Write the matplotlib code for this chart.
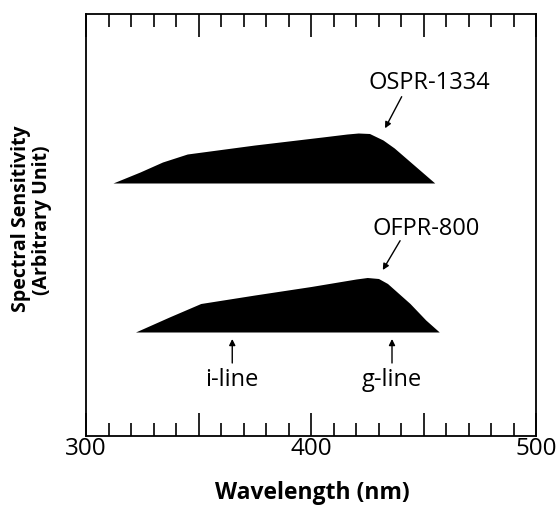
import matplotlib
matplotlib.use("Agg")
import matplotlib.pyplot as plt
from matplotlib.ticker import MultipleLocator, FixedLocator

plt.rcParams['font.family'] = ['Open Sans', 'DejaVu Sans']

# Data (wavelength in nm, sensitivity in arbitrary units)
wl_ospr = [312, 324, 334, 345, 375, 405, 416, 421, 426, 432, 437, 455]
top_ospr = [253, 264, 274, 282, 291, 299, 302, 303, 302.5, 296, 288, 253]
base_ospr = 253

wl_ofpr = [322, 337, 351, 375, 400, 420, 425, 430, 434, 444, 451, 457]
top_ofpr = [104, 119, 132.5, 141, 149.5, 157, 158.5, 157.5, 152.5, 132.5, 116, 104]
base_ofpr = 104

i_line = 365
g_line = 436

xticks_major = [300, 350, 400, 450, 500]
xtick_labels = ['300', '', '400', '', '500']

fig = plt.figure(figsize=(5.56, 5.05), dpi=100)
ax = fig.add_axes([86/556, 1-436/505, 450/556, 422/505])

ax.fill_between(wl_ospr, base_ospr, top_ospr, color='black', lw=0)
ax.fill_between(wl_ofpr, base_ofpr, top_ofpr, color='black', lw=0)

ax.set_xlim(300, 500)
ax.set_ylim(0, 422)

ax.xaxis.set_major_locator(FixedLocator(xticks_major))
ax.set_xticklabels(xtick_labels)
ax.xaxis.set_minor_locator(MultipleLocator(10))
ax.tick_params(axis='x', which='both', direction='in', top=True, bottom=True,
               width=1.2, labelsize=17.5, pad=1)
ax.tick_params(axis='x', which='major', length=16.5)
ax.tick_params(axis='x', which='minor', length=9.5)
ax.tick_params(axis='y', left=False, right=False, labelleft=False)
for s in ax.spines.values():
    s.set_linewidth(1.3)

arrow = dict(arrowstyle='-|>', lw=1.0, color='black', mutation_scale=9,
             shrinkA=0, shrinkB=0)
ax.annotate('', xy=(432.9, 307.7), xytext=(440.3, 339.3), arrowprops=arrow)
ax.text(452.4, 353, 'OSPR-1334', ha='center', va='center', fontsize=17)
ax.annotate('', xy=(431.9, 166), xytext=(439.6, 195.3), arrowprops=arrow)
ax.text(451.3, 207, 'OFPR-800', ha='center', va='center', fontsize=17)

ax.annotate('', xy=(i_line, 97), xytext=(i_line, 73), arrowprops=arrow)
ax.text(i_line, 56, 'i-line', ha='center', va='center', fontsize=17)
ax.annotate('', xy=(g_line, 97), xytext=(g_line, 73), arrowprops=arrow)
ax.text(g_line, 56, 'g-line', ha='center', va='center', fontsize=17)

fig.text(312/556, 1-493/505, 'Wavelength (nm)', ha='center', va='center',
         fontsize=16.5, fontweight='bold')
fig.text(21/556, 1-219/505, 'Spectral Sensitivity', ha='center',
         va='center', rotation=90, fontsize=14, fontweight='bold')
fig.text(42/556, 1-220/505, '(Arbitrary Unit)', ha='center',
         va='center', rotation=90, fontsize=14, fontweight='bold')

fig.savefig('out.png', dpi=100)
